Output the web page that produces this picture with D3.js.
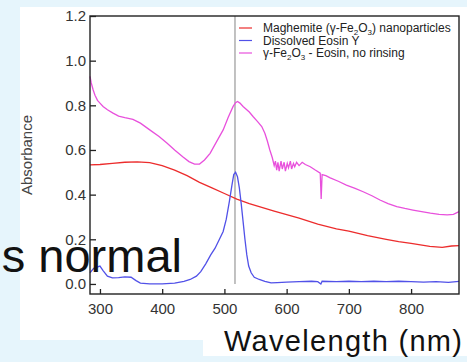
<!DOCTYPE html>
<html>
<head>
<meta charset="utf-8">
<script src="https://cdn.jsdelivr.net/npm/d3@7"></script>
<style>
  html, body { margin: 0; padding: 0; background: #e6f5fc; }
  svg { display: block; font-family: "Liberation Sans", Arial, Helvetica, sans-serif; }
</style>
</head>
<body>
<svg width="467" height="362"></svg>
<script>
// wavelength (nm), absorbance
var maghemite = [[284,.533],[300,.535],[320,.54],[340,.545],[360,.547],[380,.543],[400,.53],[420,.51],[440,.485],
  [460,.455],[480,.43],[500,.405],[520,.38],[540,.36],[560,.343],[580,.326],[600,.31],[620,.295],[650,.268],
  [680,.247],[700,.237],[730,.216],[760,.2],[780,.19],[800,.182],[815,.175],[830,.168],[850,.164],[865,.17],[877,.172]];

var eosin = [[284,.05],[290,.07],[300,.08],[305,.06],[312,.035],[320,.027],[330,.028],[340,.032],[350,.03],
  [358,.015],[365,.004],[380,0],[400,0],[420,.004],[435,.012],[445,.02],[455,.035],[462,.055],[470,.09],
  [478,.13],[485,.16],[492,.2],[498,.235],[503,.29],[508,.37],[512,.44],[515,.49],[518,.5],[521,.48],
  [524,.43],[527,.36],[530,.28],[533,.2],[536,.13],[539,.08],[543,.05],[548,.03],[556,.02],[565,.012],
  [575,.005],[585,.006],[600,.008],[620,.01],[640,.012],[650,.01],[655,0],[657,.012],[680,.01],[700,.012],
  [720,.01],[740,.012],[760,.01],[780,.012],[800,.01],[820,.008],[840,.01],[860,.007],[877,.012]];

var mixture = [[284,.93],[286,.9],[289,.87],[292,.845],[296,.822],[300,.81],[305,.795],[312,.78],[321,.765],
  [330,.752],[340,.745],[353,.737],[365,.72],[380,.69],[395,.66],[408,.63],[420,.6],[433,.57],[443,.548],
  [452,.537],[460,.537],[468,.555],[477,.585],[487,.635],[498,.69],[506,.745],[514,.795],[518,.812],[521,.817],
  [525,.81],[530,.795],[540,.77],[546,.75],[553,.728],[560,.705],[565,.675],[569,.64],[573,.6],[577,.565],
  [580,.53],[582,.55],[584,.51],[586,.545],[588,.505],[591,.55],[593,.515],[596,.545],[598,.505],[601,.54],
  [603,.52],[606,.55],[608,.515],[611,.54],[613,.525],[616,.545],[620,.53],[625,.545],[630,.535],[638,.525],
  [646,.51],[654,.496],[655.5,.38],[657,.49],[663,.485],[670,.475],[683,.46],[696,.443],[710,.428],[723,.413],
  [737,.395],[750,.376],[763,.36],[777,.346],[790,.338],[803,.331],[817,.324],[831,.317],[845,.312],[858,.309],
  [868,.312],[877,.324]];

var xTicks = [300, 400, 500, 600, 700, 800];
var yTicks = [0, 0.2, 0.4, 0.6, 0.8, 1.0, 1.2];
var peakLine = 517;

var seriesNames = [
  [["Maghemite (\u03b3-Fe",0],["2",1],["O",0],["3",1],[") nanoparticles",0]],
  [["Dissolved Eosin Y",0]],
  [["\u03b3-Fe",0],["2",1],["O",0],["3",1],[" - Eosin, no rinsing",0]]
];
var seriesColors = ["#ec2c2c", "#5151e8", "#e850dc"];

var svg = d3.select("svg");

// slide background
svg.append("rect").attr("x", 20).attr("y", 7).attr("width", 447).attr("height", 333).attr("fill", "#fff");
svg.append("rect").attr("x", 203).attr("y", 320).attr("width", 264).attr("height", 36).attr("fill", "#fff");

var x = d3.scaleLinear().domain([284, 877]).range([90, 459]);
var y = d3.scaleLinear().domain([-0.045, 1.2]).range([294, 16]);

var line = d3.line()
  .x(function (d) { return x(d[0]); })
  .y(function (d) { return y(d[1]); });

// marker line at the eosin peak
svg.append("line")
  .attr("x1", x(peakLine)).attr("x2", x(peakLine))
  .attr("y1", y(1.2)).attr("y2", y(0))
  .attr("stroke", "#999").attr("stroke-width", 1.2);

svg.selectAll("path.series")
  .data([maghemite, eosin, mixture])
  .enter().append("path")
    .attr("class", "series")
    .attr("d", line)
    .attr("fill", "none")
    .attr("stroke", function (d, i) { return seriesColors[i]; })
    .attr("stroke-width", 1.3);

var xAxis = svg.append("g")
  .attr("transform", "translate(0,294)")
  .call(d3.axisBottom(x).tickValues(xTicks).tickSize(-5).tickPadding(9));
var yAxis = svg.append("g")
  .attr("transform", "translate(90,0)")
  .call(d3.axisLeft(y).tickValues(yTicks).tickFormat(d3.format(".1f")).tickSize(-6).tickPadding(4));

[xAxis, yAxis].forEach(function (g) {
  g.select(".domain").remove();
  g.selectAll(".tick line").attr("stroke", "#222").attr("stroke-width", 1.3);
  g.selectAll(".tick text").attr("fill", "#333").style("font-size", "15px")
    .style("font-family", "'Liberation Sans', Arial, sans-serif");
});

svg.append("rect")
  .attr("x", 90).attr("y", 16).attr("width", 369).attr("height", 278)
  .attr("fill", "none").attr("stroke", "#222").attr("stroke-width", 1.4);

svg.append("text")
  .attr("transform", "translate(32,155) rotate(-90)")
  .attr("text-anchor", "middle")
  .attr("fill", "#444")
  .style("font-size", "15px")
  .text("Absorbance");

// legend
var legend = svg.append("g").selectAll("g")
  .data(seriesNames)
  .enter().append("g")
    .attr("transform", function (d, i) { return "translate(239," + (28 + i * 12.5) + ")"; });
legend.append("line")
  .attr("x1", 0).attr("x2", 13)
  .attr("stroke", function (d, i) { return seriesColors[i]; })
  .attr("stroke-width", 1.2);
var legendText = legend.append("text")
  .attr("x", 24).attr("y", 4)
  .attr("fill", "#222")
  .style("font-size", "12px");
legendText.selectAll("tspan")
  .data(function (d) { return d; })
  .enter().append("tspan")
    .attr("dy", function (d, i, nodes) {
      var prev = i > 0 ? d3.select(nodes[i - 1]).datum()[1] : 0;
      return (d[1] - prev) * 3;
    })
    .style("font-size", function (d) { return d[1] ? "8px" : "12px"; })
    .text(function (d) { return d[0]; });

// slide texts on top
svg.append("text")
  .attr("x", 182).attr("y", 272)
  .attr("text-anchor", "end")
  .attr("fill", "#111")
  .style("font-size", "47px")
  .text("s normal");

svg.append("text")
  .attr("x", 224).attr("y", 351)
  .attr("fill", "#111")
  .attr("textLength", 238)
  .attr("lengthAdjust", "spacing")
  .style("font-size", "29px")
  .text("Wavelength (nm)");
</script>
</body>
</html>
